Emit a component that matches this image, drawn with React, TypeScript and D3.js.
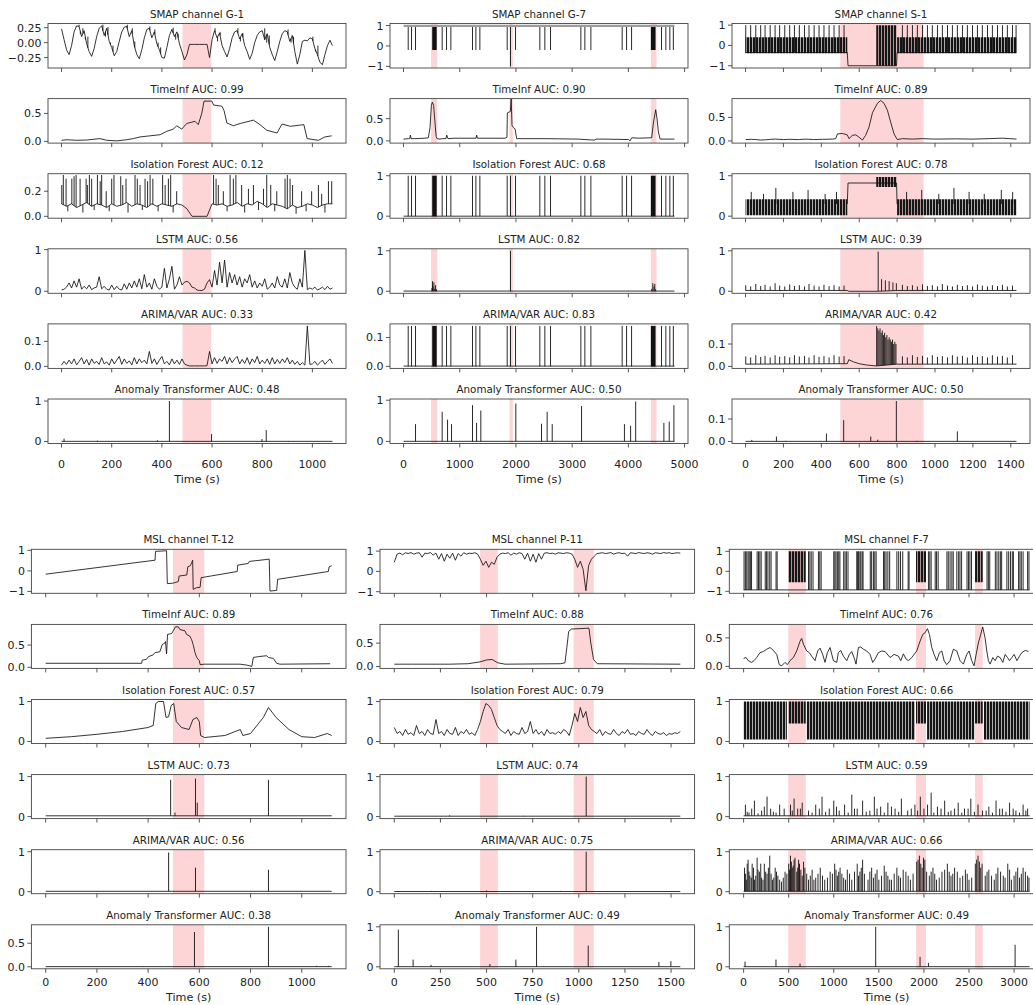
import React from 'react';
import * as d3 from 'd3';

type P = [number, number];
type B = [number, number, number];

// ================= SMAP G-1 =================
const G1_TMAX = 1080;
const G1_PINK: P[] = [[482, 597]];
const G1_SIG = [0.23, 0.05, -0.12, -0.2, -0.05, 0.18, 0.28, 0.27, 0.1, 0.2, -0.02, -0.15, -0.23, -0.1, 0.1, 0.24, 0.28, 0.12, 0.24, 0.02, -0.08, -0.22, -0.15, 0.02, 0.18, 0.26, 0.27, 0.1, 0.2, -0.05, -0.2, -0.27, -0.12, 0.08, 0.22, 0.24, 0.08, 0.18, -0.02, -0.12, -0.25, -0.26, -0.08, 0.12, 0.22, 0.1, 0.18, -0.02, -0.15, -0.29, -0.2, -0.03, -0.03, -0.03, -0.03, -0.03, -0.03, -0.03, -0.03, -0.25, 0.05, 0.2, 0.08, 0.16, -0.05, -0.15, -0.24, -0.1, 0.08, 0.18, 0.2, 0.06, 0.15, -0.05, -0.15, -0.28, -0.18, 0.0, 0.12, 0.18, 0.2, 0.05, 0.15, -0.08, -0.2, -0.3, -0.15, 0.02, 0.15, 0.2, 0.18, 0.02, 0.12, -0.15, -0.36, -0.2, 0.02, 0.04, 0.03, 0.08, 0.06, -0.1, -0.2, -0.33, -0.37, -0.2, -0.05, 0.04, -0.05];
const G1_HATCH: P[] = [[70, 0.3], [75, 0.14], [85, 0.24], [95, 0.05], [105, 0.1], [165, 0.3], [175, 0.1], [185, 0.26], [195, 0.0], [205, -0.05], [262, 0.3], [272, 0.12], [282, 0.24], [292, 0.02], [352, 0.27], [362, 0.1], [372, 0.22], [385, 0.0], [395, -0.08], [445, 0.25], [455, 0.05], [465, 0.15], [475, -0.08], [612, 0.24], [622, 0.02], [632, 0.18], [642, -0.08], [703, 0.24], [713, 0.02], [723, 0.16], [735, -0.1], [810, 0.24], [818, 0.0], [828, 0.12], [903, 0.22], [915, 0.0], [925, 0.1], [1002, 0.1], [1012, -0.15], [1022, -0.05]];
const G1_TIMEINF: P[] = [[0, 0.02], [21, 0.03], [60, 0.02], [100, 0.025], [153, 0.05], [180, 0.02], [220, 0.01], [260, 0.03], [286, 0.05], [313, 0.08], [353, 0.1], [393, 0.12], [419, 0.18], [446, 0.22], [459, 0.28], [479, 0.22], [499, 0.32], [532, 0.36], [545, 0.3], [559, 0.5], [568, 0.72], [599, 0.72], [606, 0.65], [639, 0.63], [648, 0.55], [659, 0.33], [685, 0.28], [712, 0.32], [765, 0.38], [791, 0.3], [818, 0.2], [859, 0.15], [879, 0.31], [912, 0.27], [966, 0.3], [979, 0.05], [1024, 0.02], [1050, 0.08], [1077, 0.1]];
const G1_IF_BASE = [0.1, 0.08, 0.1, 0.07, 0.09, 0.11, 0.08, 0.1, 0.09, 0.07, 0.1, 0.08, 0.09, 0.11, 0.08, 0.1, 0.09, 0.07, 0.1, 0.08, 0.1, 0.09, 0.08, 0.1, 0.09, 0.06, 0.0, 0.0, 0.0, 0.0, 0.1, 0.09, 0.1, 0.08, 0.09, 0.11, 0.08, 0.1, 0.09, 0.12, 0.1, 0.07, 0.1, 0.09, 0.08, 0.06, 0.09, 0.07, 0.08, 0.1, 0.09, 0.07, 0.09, 0.1, 0.1];
const G1_IF_SPK: P[] = [[1, 0.25], [7, 0.33], [18, 0.3], [41, 0.3], [50, 0.32], [58, 0.33], [74, 0.3], [98, 0.3], [103, 0.25], [111, 0.33], [120, 0.3], [143, 0.33], [154, 0.28], [160, 0.33], [178, 0.2], [200, 0.3], [209, 0.33], [236, 0.32], [244, 0.25], [257, 0.3], [293, 0.33], [302, 0.3], [313, 0.25], [333, 0.3], [343, 0.28], [353, 0.33], [364, 0.3], [403, 0.33], [413, 0.25], [426, 0.3], [435, 0.33], [459, 0.2], [606, 0.33], [616, 0.3], [625, 0.25], [645, 0.2], [672, 0.33], [685, 0.3], [695, 0.33], [718, 0.25], [745, 0.22], [765, 0.25], [805, 0.22], [818, 0.33], [834, 0.25], [858, 0.2], [891, 0.3], [900, 0.33], [911, 0.3], [921, 0.25], [957, 0.2], [997, 0.2], [1024, 0.25], [1037, 0.18], [1064, 0.28], [1077, 0.28], [25, 0.04], [85, 0.03], [130, 0.05], [190, 0.04], [265, 0.03], [322, 0.05], [385, 0.04], [445, 0.03], [660, 0.04], [730, 0.03], [785, 0.05], [850, 0.04], [935, 0.02], [975, 0.04], [1050, 0.03]];
const G1_LSTM = [0.03, 0.05, 0.1, 0.2, 0.08, 0.25, 0.1, 0.3, 0.05, 0.12, 0.06, 0.15, 0.04, 0.08, 0.1, 0.35, 0.06, 0.12, 0.05, 0.03, 0.15, 0.04, 0.12, 0.05, 0.03, 0.18, 0.05, 0.2, 0.08, 0.25, 0.1, 0.3, 0.06, 0.4, 0.1, 0.2, 0.05, 0.3, 0.12, 0.05, 0.1, 0.55, 0.08, 0.3, 0.6, 0.05, 0.15, 0.35, 0.15, 0.22, 0.24, 0.2, 0.1, 0.08, 0.03, 0.02, 0.02, 0.05, 0.2, 0.28, 0.1, 0.5, 0.15, 0.7, 0.2, 0.75, 0.1, 0.45, 0.2, 0.4, 0.15, 0.35, 0.1, 0.3, 0.2, 0.4, 0.1, 0.25, 0.08, 0.2, 0.12, 0.3, 0.05, 0.1, 0.2, 0.08, 0.35, 0.15, 0.1, 0.3, 0.08, 0.45, 0.2, 0.1, 0.05, 0.3, 0.1, 0.98, 0.04, 0.08, 0.05, 0.1, 0.03, 0.06, 0.1, 0.04, 0.12, 0.05, 0.08];
const G1_ARIMA = [0.005, 0.02, 0.008, 0.025, 0.01, 0.03, 0.006, 0.02, 0.035, 0.01, 0.028, 0.005, 0.03, 0.012, 0.02, 0.008, 0.035, 0.01, 0.018, 0.005, 0.03, 0.01, 0.025, 0.04, 0.008, 0.03, 0.012, 0.022, 0.006, 0.035, 0.01, 0.03, 0.015, 0.025, 0.01, 0.06, 0.012, 0.03, 0.008, 0.025, 0.04, 0.01, 0.02, 0.006, 0.03, 0.01, 0.025, 0.008, 0.03, 0.01, 0.005, 0.002, 0.002, 0.002, 0.002, 0.002, 0.002, 0.002, 0.003, 0.06, 0.01, 0.035, 0.012, 0.03, 0.02, 0.04, 0.01, 0.035, 0.015, 0.03, 0.04, 0.01, 0.028, 0.012, 0.035, 0.008, 0.03, 0.015, 0.04, 0.01, 0.025, 0.012, 0.03, 0.008, 0.035, 0.01, 0.028, 0.012, 0.03, 0.015, 0.035, 0.01, 0.025, 0.008, 0.02, 0.005, 0.015, 0.005, 0.162, 0.008, 0.01, 0.02, 0.005, 0.015, 0.025, 0.008, 0.02, 0.03, 0.012];
const G1_AT: P[] = [[10, 0.07], [143, 0.02], [382, 0.03], [430, 1.0], [598, 0.18], [799, 0.06], [816, 0.28], [905, 0.01]];

// ================= SMAP G-7 =================
const G7_TMAX = 4820;
const G7_PINK: P[] = [[490, 600], [1885, 1945], [4400, 4500]];
const G7_SPK_T = [83, 142, 213, 687, 765, 842, 1227, 1287, 1358, 1844, 1993, 2425, 2514, 2615, 3155, 3226, 3333, 3890, 3968, 4057, 4590, 4667, 4738, 4800];
const G7_NEG_T = [1903];
const G7_BLOCKS: P[] = [[510, 590], [4400, 4484]];
const G7_TIMEINF: P[] = [[0, 0.04], [86, 0.05], [110, 0.05], [122, 0.13], [135, 0.05], [200, 0.05], [382, 0.06], [441, 0.07], [471, 0.3], [495, 0.8], [512, 0.87], [535, 0.8], [560, 0.4], [580, 0.1], [595, 0.05], [649, 0.04], [700, 0.05], [755, 0.05], [768, 0.13], [790, 0.05], [916, 0.06], [1290, 0.06], [1301, 0.13], [1315, 0.06], [1806, 0.06], [1840, 0.08], [1847, 0.63], [1900, 0.66], [1915, 0.95], [1930, 0.35], [1954, 0.3], [1984, 0.27], [2013, 0.05], [2517, 0.05], [3110, 0.04], [3348, 0.02], [3407, 0.02], [3420, 0.04], [3585, 0.04], [4000, 0.03], [4030, 0.0], [4060, 0.07], [4178, 0.06], [4415, 0.07], [4445, 0.4], [4486, 0.7], [4510, 0.5], [4534, 0.2], [4564, 0.04], [4820, 0.04]];
const G7_LSTM_SPK: P[] = [[505, 0.08], [515, 0.25], [525, 0.12], [540, 0.22], [555, 0.06], [570, 0.15], [585, 0.05], [1903, 1.0], [4415, 0.06], [4435, 0.2], [4455, 0.12], [4470, 0.18], [4485, 0.05]];
const G7_AT: P[] = [[213, 0.42], [687, 0.72], [783, 0.53], [854, 0.42], [1227, 0.88], [1299, 0.45], [1375, 0.75], [1998, 0.92], [2455, 0.43], [2555, 0.72], [2645, 0.42], [3167, 0.86], [3930, 0.42], [4040, 0.38], [4130, 0.97], [4632, 0.45], [4727, 0.48], [4810, 0.88]];

// ================= SMAP S-1 =================
const S1_TMAX = 1430;
const S1_PINK: P[] = [[500, 940]];
const S1_SPK_T = [1, 27, 54, 80, 103, 130, 156, 180, 207, 233, 258, 284, 311, 335, 362, 388, 414, 441, 467, 494, 520, 828, 854, 881, 907, 934, 960, 986, 1013, 1039, 1066, 1092, 1118, 1145, 1171, 1198, 1224, 1250, 1277, 1303, 1330, 1356, 1382, 1409, 1428];
const S1_SIG_LINE: P[] = [[0, -0.35], [537, -0.35], [541, -1], [797, -1], [800, -0.35], [1430, -0.35]];
const S1_SIG_BAND: B[][] = [[[0, -0.38, 0.4], [537, -0.38, 0.4]], [[800, -0.38, 0.4], [1430, -0.38, 0.4]], [[690, -1, 1], [797, -1, 1]]];
const S1_TIMEINF: P[] = [[1, 0.03], [30, 0.035], [54, 0.03], [80, 0.02], [107, 0.025], [130, 0.035], [159, 0.04], [200, 0.03], [230, 0.035], [280, 0.03], [318, 0.04], [360, 0.03], [406, 0.035], [459, 0.04], [476, 0.05], [485, 0.15], [511, 0.16], [537, 0.13], [546, 0.05], [564, 0.12], [582, 0.13], [599, 0.08], [617, 0.02], [634, 0.12], [652, 0.3], [670, 0.6], [696, 0.8], [714, 0.86], [731, 0.8], [749, 0.65], [766, 0.4], [784, 0.15], [801, 0.03], [828, 0.05], [880, 0.04], [934, 0.05], [1000, 0.04], [1110, 0.045], [1200, 0.04], [1286, 0.05], [1356, 0.06], [1391, 0.05], [1430, 0.04]];
const S1_IF_BAND: B[][] = [[[0, 0.02, 0.42], [537, 0.02, 0.42]], [[800, 0.02, 0.42], [1430, 0.02, 0.42]], [[690, 0.72, 0.97], [797, 0.72, 0.97]]];
const S1_IF_LINE: P[] = [[537, 0.3], [541, 0.82], [797, 0.82], [800, 0.3]];
const S1_IF_SPK: P[] = [[30, 0.6], [95, 0.55], [160, 0.7], [250, 0.6], [330, 0.65], [420, 0.55], [480, 0.6], [850, 0.6], [930, 0.65], [1020, 0.55], [1100, 0.7], [1180, 0.6], [1260, 0.55], [1350, 0.65], [1410, 0.6]];
const S1_LSTM_LINE: P[] = [[0, 0.02], [537, 0.02], [545, 0.0], [695, 0.0], [800, 0.02], [1430, 0.02]];
const S1_LSTM_SPK: P[] = [[1, 0.15], [27, 0.12], [54, 0.18], [80, 0.13], [103, 0.16], [130, 0.12], [156, 0.2], [180, 0.14], [207, 0.12], [233, 0.17], [258, 0.13], [284, 0.15], [311, 0.12], [335, 0.18], [362, 0.14], [388, 0.12], [414, 0.16], [441, 0.13], [467, 0.15], [494, 0.12], [520, 0.14], [700, 0.98], [718, 0.3], [738, 0.27], [758, 0.25], [778, 0.22], [796, 0.2], [828, 0.16], [854, 0.13], [881, 0.15], [907, 0.12], [934, 0.17], [960, 0.13], [986, 0.15], [1013, 0.12], [1039, 0.18], [1066, 0.14], [1092, 0.12], [1118, 0.16], [1145, 0.13], [1171, 0.15], [1198, 0.12], [1224, 0.17], [1250, 0.14], [1277, 0.12], [1303, 0.15], [1330, 0.13], [1356, 0.16], [1382, 0.12], [1409, 0.14]];
const S1_ARIMA_LINE: P[] = [[0, 0.01], [537, 0.012], [545, 0.03], [570, 0.02], [600, 0.012], [640, 0.006], [690, 0.002], [797, 0.01], [1430, 0.01]];
const S1_ARIMA_SPK: P[] = [[1, 0.045], [27, 0.04], [54, 0.05], [80, 0.042], [103, 0.047], [130, 0.04], [156, 0.05], [180, 0.043], [207, 0.046], [233, 0.04], [258, 0.05], [284, 0.044], [311, 0.047], [335, 0.04], [362, 0.05], [388, 0.043], [414, 0.046], [441, 0.04], [467, 0.05], [494, 0.044], [520, 0.046], [692, 0.18], [698, 0.17], [704, 0.16], [710, 0.17], [716, 0.15], [722, 0.16], [728, 0.14], [734, 0.15], [740, 0.13], [746, 0.14], [752, 0.12], [758, 0.13], [764, 0.12], [770, 0.11], [776, 0.12], [782, 0.1], [788, 0.11], [794, 0.1], [828, 0.045], [854, 0.04], [881, 0.05], [907, 0.042], [934, 0.047], [960, 0.04], [986, 0.05], [1013, 0.043], [1039, 0.046], [1066, 0.04], [1092, 0.05], [1118, 0.044], [1145, 0.047], [1171, 0.04], [1198, 0.05], [1224, 0.043], [1250, 0.046], [1277, 0.04], [1303, 0.05], [1330, 0.044], [1356, 0.047], [1382, 0.04], [1409, 0.05]];
const S1_AT: P[] = [[33, 0.007], [163, 0.022], [212, 0.003], [427, 0.035], [518, 0.095], [661, 0.022], [698, 0.008], [796, 0.18], [904, 0.003], [1118, 0.045]];

// ================= MSL T-12 =================
const T12_TMAX = 1117;
const T12_PINK: P[] = [[497, 619]];
const T12_SIG: P[] = [[0, -0.16], [427, 0.52], [429, 0.95], [472, 0.98], [475, -0.62], [496, -0.6], [518, -0.52], [521, -0.25], [551, -0.2], [555, 0.2], [565, 0.25], [570, 0.4], [574, 0.52], [576, -0.9], [589, -0.82], [603, -0.8], [607, -0.33], [748, -0.03], [750, 0.28], [791, 0.36], [795, 0.46], [873, 0.57], [876, -0.98], [902, -0.95], [906, -0.41], [1104, -0.03], [1107, 0.2], [1117, 0.25]];
const T12_TIMEINF: P[] = [[0, 0.09], [375, 0.09], [377, 0.16], [394, 0.18], [401, 0.24], [420, 0.28], [427, 0.33], [446, 0.35], [455, 0.51], [466, 0.55], [468, 0.58], [472, 0.3], [476, 0.74], [492, 0.76], [496, 0.8], [507, 0.91], [518, 0.91], [524, 0.85], [544, 0.82], [550, 0.74], [563, 0.7], [570, 0.62], [576, 0.51], [583, 0.33], [590, 0.22], [600, 0.15], [603, 0.06], [620, 0.07], [759, 0.07], [785, 0.05], [805, 0.02], [811, 0.22], [831, 0.24], [863, 0.26], [870, 0.22], [889, 0.2], [902, 0.09], [915, 0.07], [1111, 0.08]];
const T12_IF: P[] = [[0, 0.08], [100, 0.12], [200, 0.18], [300, 0.25], [400, 0.35], [420, 0.4], [430, 0.95], [440, 1.0], [460, 1.0], [470, 0.6], [480, 0.62], [490, 0.9], [500, 0.95], [510, 0.5], [530, 0.35], [560, 0.3], [575, 0.55], [590, 0.6], [600, 0.5], [605, 0.15], [620, 0.1], [700, 0.15], [760, 0.3], [770, 0.15], [800, 0.2], [850, 0.6], [870, 0.85], [900, 0.6], [950, 0.3], [1000, 0.12], [1050, 0.1], [1100, 0.2], [1117, 0.15]];
const T12_LSTM: P[] = [[488, 0.92], [505, 0.1], [585, 0.95], [592, 0.35], [870, 0.92]];
const T12_ARIMA: P[] = [[480, 0.98], [585, 0.6], [870, 0.55]];
const T12_AT: P[] = [[381, 0.01], [581, 0.74], [870, 0.85], [1058, 0.02], [1104, 0.02]];

// ================= MSL P-11 =================
const P11_TMAX = 1550;
const P11_PINK: P[] = [[465, 561], [972, 1081]];
const P11_SIG = [0.45, 0.85, 0.9, 0.82, 0.92, 0.88, 0.93, 0.85, 0.9, 0.92, 0.7, 0.9, 0.88, 0.93, 0.8, 0.9, 0.6, 0.88, 0.5, 0.85, 0.65, 0.9, 0.55, 0.88, 0.75, 0.92, 0.85, 0.9, 0.88, 0.92, 0.85, 0.6, 0.3, 0.5, 0.2, 0.45, 0.35, 0.7, 0.85, 0.9, 0.88, 0.92, 0.8, 0.9, 0.85, 0.92, 0.88, 0.6, 0.9, 0.5, 0.85, 0.45, 0.88, 0.6, 0.9, 0.92, 0.88, 0.9, 0.85, 0.92, 0.9, 0.88, 0.92, 0.9, 0.85, 0.6, 0.2, 0.5, 0.1, -0.95, 0.3, 0.6, 0.75, 0.88, 0.9, 0.92, 0.88, 0.9, 0.93, 0.85, 0.9, 0.92, 0.88, 0.9, 0.75, 0.92, 0.9, 0.88, 0.93, 0.9, 0.88, 0.92, 0.9, 0.85, 0.92, 0.9, 0.88, 0.93, 0.9, 0.92, 0.88, 0.9, 0.92, 0.9];
const P11_TIMEINF: P[] = [[0, 0.05], [100, 0.05], [300, 0.05], [400, 0.06], [465, 0.1], [500, 0.14], [530, 0.15], [561, 0.08], [600, 0.05], [900, 0.06], [925, 0.08], [935, 0.4], [945, 0.75], [960, 0.8], [1055, 0.82], [1065, 0.5], [1080, 0.15], [1100, 0.06], [1550, 0.05]];
const P11_IF = [0.35, 0.2, 0.25, 0.15, 0.3, 0.18, 0.22, 0.15, 0.4, 0.2, 0.25, 0.15, 0.3, 0.2, 0.18, 0.55, 0.2, 0.25, 0.15, 0.3, 0.2, 0.18, 0.35, 0.15, 0.25, 0.2, 0.3, 0.18, 0.22, 0.15, 0.3, 0.5, 0.75, 0.95, 0.9, 0.8, 0.6, 0.4, 0.3, 0.25, 0.2, 0.3, 0.15, 0.25, 0.2, 0.18, 0.35, 0.2, 0.25, 0.5, 0.2, 0.3, 0.18, 0.25, 0.15, 0.3, 0.2, 0.22, 0.18, 0.25, 0.2, 0.3, 0.25, 0.15, 0.4, 0.7, 0.5, 0.85, 0.6, 0.75, 0.4, 0.3, 0.25, 0.2, 0.3, 0.15, 0.25, 0.2, 0.18, 0.3, 0.2, 0.15, 0.25, 0.2, 0.3, 0.18, 0.2, 0.15, 0.25, 0.2, 0.18, 0.3, 0.2, 0.15, 0.25, 0.2, 0.18, 0.22, 0.15, 0.2, 0.18, 0.22, 0.2, 0.25];
const P11_LSTM: P[] = [[300, 0.03], [700, 0.02], [1040, 1.0]];
const P11_ARIMA: P[] = [[200, 0.02], [500, 0.03], [900, 0.02], [1040, 1.0]];
const P11_AT: P[] = [[22, 0.93], [102, 0.18], [199, 0.05], [518, 0.07], [659, 0.18], [771, 1.0], [1051, 0.53], [1434, 0.12], [1499, 0.14]];

// ================= MSL F-7 =================
const F7_TMAX = 3172;
const F7_PINK: P[] = [[495, 690], [1912, 2023], [2567, 2652]];
const F7_SIG_T = [5, 20, 35, 50, 62, 75, 88, 150, 165, 180, 195, 240, 255, 270, 290, 305, 360, 372, 720, 735, 750, 770, 830, 845, 860, 1000, 1012, 1025, 1040, 1055, 1068, 1110, 1125, 1140, 1158, 1255, 1265, 1275, 1290, 1300, 1315, 1325, 1405, 1420, 1440, 1455, 1470, 1552, 1565, 1580, 1600, 1620, 1700, 1720, 1740, 1765, 1825, 1835, 2050, 2065, 2080, 2125, 2140, 2158, 2255, 2270, 2290, 2310, 2325, 2365, 2385, 2400, 2418, 2478, 2495, 2510, 2528, 2700, 2715, 2730, 2792, 2810, 2830, 2848, 2862, 2920, 2940, 2960, 2980, 2992, 3050, 3065, 3080, 3100, 3150, 3165];
const F7_SIG_BLOCKS: number[][] = [[496, 689, -0.55, 1], [1912, 2023, -0.55, 1], [2567, 2652, -0.55, 1]];
const F7_TIMEINF: P[] = [[0, 0.14], [27, 0.155], [52, 0.1], [89, 0.07], [115, 0.1], [145, 0.155], [182, 0.24], [219, 0.26], [256, 0.3], [293, 0.33], [330, 0.28], [367, 0.21], [396, 0.03], [422, 0.01], [459, 0.07], [485, 0.03], [515, 0.1], [552, 0.155], [589, 0.27], [626, 0.44], [644, 0.49], [663, 0.39], [700, 0.27], [729, 0.24], [755, 0.18], [792, 0.1], [822, 0.27], [848, 0.32], [877, 0.21], [903, 0.07], [929, 0.24], [959, 0.33], [996, 0.1], [1033, 0.07], [1051, 0.24], [1077, 0.28], [1107, 0.18], [1144, 0.1], [1173, 0.21], [1199, 0.26], [1225, 0.155], [1247, 0.04], [1273, 0.33], [1299, 0.34], [1329, 0.3], [1366, 0.27], [1402, 0.21], [1432, 0.07], [1458, 0.13], [1495, 0.24], [1532, 0.27], [1569, 0.26], [1624, 0.155], [1669, 0.21], [1717, 0.18], [1743, 0.1], [1772, 0.22], [1802, 0.13], [1828, 0.1], [1865, 0.155], [1891, 0.21], [1920, 0.27], [1957, 0.44], [1987, 0.56], [2013, 0.59], [2039, 0.66], [2061, 0.56], [2087, 0.33], [2113, 0.21], [2142, 0.1], [2172, 0.24], [2198, 0.27], [2224, 0.1], [2253, 0.03], [2290, 0.1], [2309, 0.21], [2327, 0.3], [2364, 0.27], [2401, 0.1], [2438, 0.04], [2457, 0.13], [2475, 0.21], [2501, 0.27], [2530, 0.1], [2556, 0.01], [2579, 0.21], [2604, 0.41], [2630, 0.56], [2652, 0.69], [2678, 0.5], [2697, 0.27], [2715, 0.1], [2734, 0.04], [2764, 0.155], [2790, 0.1], [2816, 0.18], [2845, 0.155], [2875, 0.07], [2901, 0.21], [2927, 0.155], [2949, 0.1], [2975, 0.155], [3001, 0.21], [3031, 0.1], [3060, 0.18], [3086, 0.24], [3123, 0.28], [3160, 0.26]];
const F7_IF_BLOCKS: number[][] = [[0, 480, 0.05, 1], [496, 689, 0.45, 1], [700, 1900, 0.05, 1], [1912, 2023, 0.45, 1], [2035, 2560, 0.05, 1], [2567, 2652, 0.45, 1], [2665, 3172, 0.05, 1]];
const F7_LSTM: P[] = [[20, 0.3], [60, 0.1], [120, 0.4], [200, 0.15], [260, 0.5], [300, 0.2], [360, 0.1], [450, 0.2], [520, 0.3], [560, 0.45], [600, 0.2], [650, 0.35], [720, 0.15], [800, 0.3], [870, 0.5], [950, 0.2], [1000, 0.4], [1060, 0.15], [1120, 0.3], [1200, 0.55], [1260, 0.2], [1320, 0.4], [1400, 0.15], [1450, 0.5], [1520, 0.25], [1600, 0.35], [1680, 0.2], [1750, 0.45], [1820, 0.15], [1900, 0.3], [1960, 0.5], [2000, 0.2], [2080, 0.6], [2150, 0.25], [2230, 0.4], [2300, 0.15], [2380, 0.35], [2450, 0.2], [2520, 0.45], [2600, 0.3], [2650, 0.15], [2720, 0.25], [2800, 0.4], [2870, 0.2], [2950, 0.35], [3020, 0.15], [3100, 0.3], [3150, 0.2], [40, 0.12], [90, 0.2], [160, 0.08], [230, 0.25], [330, 0.12], [400, 0.3], [540, 0.15], [630, 0.2], [760, 0.1], [840, 0.2], [910, 0.12], [1030, 0.25], [1160, 0.1], [1230, 0.2], [1360, 0.12], [1480, 0.2], [1560, 0.1], [1640, 0.25], [1720, 0.12], [1860, 0.2], [1930, 0.15], [2040, 0.3], [2110, 0.1], [2190, 0.2], [2270, 0.12], [2340, 0.2], [2420, 0.1], [2490, 0.2], [2560, 0.12], [2690, 0.15], [2760, 0.1], [2840, 0.2], [2910, 0.12], [2990, 0.2], [3060, 0.1], [3130, 0.15]];
const F7_ARIMA: P[] = [[10, 0.6], [30, 0.3], [50, 0.8], [70, 0.4], [95, 0.7], [120, 0.3], [150, 0.85], [175, 0.5], [200, 0.35], [230, 0.7], [260, 0.45], [290, 0.9], [320, 0.3], [350, 0.6], [380, 0.4], [420, 0.25], [460, 0.5], [500, 0.7], [520, 0.9], [540, 0.6], [560, 0.8], [590, 0.5], [620, 0.7], [650, 0.4], [680, 0.6], [720, 0.3], [760, 0.55], [800, 0.35], [850, 0.6], [900, 0.3], [960, 0.5], [1010, 0.7], [1040, 0.4], [1070, 0.6], [1110, 0.35], [1150, 0.55], [1200, 0.3], [1260, 0.7], [1290, 0.5], [1320, 0.8], [1380, 0.3], [1420, 0.6], [1460, 0.45], [1500, 0.3], [1560, 0.65], [1600, 0.4], [1640, 0.3], [1700, 0.6], [1740, 0.35], [1800, 0.5], [1850, 0.3], [1920, 0.75], [1950, 0.9], [1980, 0.6], [2010, 0.8], [2060, 0.4], [2100, 0.6], [2140, 0.3], [2200, 0.5], [2260, 0.7], [2300, 0.4], [2340, 0.6], [2400, 0.35], [2460, 0.55], [2500, 0.3], [2570, 0.7], [2600, 0.9], [2630, 0.6], [2680, 0.4], [2720, 0.55], [2780, 0.3], [2820, 0.6], [2880, 0.4], [2930, 0.7], [2970, 0.3], [3020, 0.5], [3060, 0.35], [3100, 0.6], [3150, 0.4], [20, 0.45], [40, 0.7], [60, 0.5], [85, 0.35], [110, 0.6], [135, 0.4], [160, 0.55], [190, 0.7], [215, 0.3], [245, 0.5], [275, 0.6], [305, 0.45], [335, 0.35], [365, 0.5], [400, 0.3], [440, 0.35], [480, 0.45], [510, 0.55], [530, 0.75], [550, 0.65], [570, 0.85], [600, 0.6], [610, 0.8], [635, 0.55], [665, 0.75], [700, 0.45], [740, 0.4], [780, 0.3], [825, 0.45], [875, 0.4], [930, 0.35], [985, 0.45], [1025, 0.55], [1055, 0.5], [1090, 0.45], [1130, 0.3], [1175, 0.45], [1230, 0.5], [1275, 0.4], [1305, 0.6], [1340, 0.45], [1400, 0.5], [1440, 0.35], [1480, 0.55], [1530, 0.4], [1580, 0.5], [1620, 0.3], [1670, 0.45], [1720, 0.4], [1770, 0.55], [1825, 0.4], [1880, 0.45], [1935, 0.8], [1965, 0.7], [1995, 0.85], [2030, 0.5], [2080, 0.5], [2120, 0.45], [2170, 0.35], [2230, 0.55], [2280, 0.5], [2320, 0.45], [2370, 0.5], [2430, 0.4], [2480, 0.45], [2530, 0.35], [2585, 0.8], [2615, 0.75], [2645, 0.7], [2700, 0.5], [2750, 0.4], [2800, 0.45], [2850, 0.5], [2900, 0.35], [2950, 0.55], [3000, 0.4], [3040, 0.6], [3080, 0.45], [3125, 0.5], [3165, 0.35]];
const F7_AT: P[] = [[16, 0.13], [359, 0.18], [626, 0.08], [1465, 1.0], [1957, 0.25], [2050, 0.1], [3011, 0.55]];

// ================= titles & ticks =================
const TITLES_G1 = ['SMAP channel G-1', 'TimeInf AUC: 0.99', 'Isolation Forest AUC: 0.12', 'LSTM AUC: 0.56', 'ARIMA/VAR AUC: 0.33', 'Anomaly Transformer AUC: 0.48'];
const TITLES_G7 = ['SMAP channel G-7', 'TimeInf AUC: 0.90', 'Isolation Forest AUC: 0.68', 'LSTM AUC: 0.82', 'ARIMA/VAR AUC: 0.83', 'Anomaly Transformer AUC: 0.50'];
const TITLES_S1 = ['SMAP channel S-1', 'TimeInf AUC: 0.89', 'Isolation Forest AUC: 0.78', 'LSTM AUC: 0.39', 'ARIMA/VAR AUC: 0.42', 'Anomaly Transformer AUC: 0.50'];
const TITLES_T12 = ['MSL channel T-12', 'TimeInf AUC: 0.89', 'Isolation Forest AUC: 0.57', 'LSTM AUC: 0.73', 'ARIMA/VAR AUC: 0.56', 'Anomaly Transformer AUC: 0.38'];
const TITLES_P11 = ['MSL channel P-11', 'TimeInf AUC: 0.88', 'Isolation Forest AUC: 0.79', 'LSTM AUC: 0.74', 'ARIMA/VAR AUC: 0.75', 'Anomaly Transformer AUC: 0.49'];
const TITLES_F7 = ['MSL channel F-7', 'TimeInf AUC: 0.76', 'Isolation Forest AUC: 0.66', 'LSTM AUC: 0.59', 'ARIMA/VAR AUC: 0.66', 'Anomaly Transformer AUC: 0.49'];

const XT_G1 = [0, 200, 400, 600, 800, 1000];
const XT_G7 = [0, 1000, 2000, 3000, 4000, 5000];
const XT_S1 = [0, 200, 400, 600, 800, 1000, 1200, 1400];
const XT_T12 = [0, 200, 400, 600, 800, 1000];
const XT_P11 = [0, 250, 500, 750, 1000, 1250, 1500];
const XT_F7 = [0, 500, 1000, 1500, 2000, 2500, 3000];

// ================= rendering helpers =================
interface Layer { kind: 'line' | 'spikes' | 'area'; pts?: P[]; spk?: P[]; base?: number | P[]; band?: B[]; fill?: string; stroke?: string; sw?: number; }
interface PanelSpec { title: string; y: [number, number]; ticks: number[]; labels: string[]; layers: Layer[]; }

const even = (vals: number[], tMax: number): P[] => vals.map((v, i) => [(i * tMax) / (vals.length - 1), v] as P);
const L = (pts: P[], stroke = '#111', sw = 0.85): Layer => ({ kind: 'line', pts, stroke, sw });
const S = (spk: P[], base: number | P[]): Layer => ({ kind: 'spikes', spk, base });
const A = (band: B[], fill = 'url(#dense)'): Layer => ({ kind: 'area', band, fill });
const blk = (b: number[]): B[] => [[b[0], b[2], b[3]], [b[1], b[2], b[3]]];
const at = (ts: number[], h: number): P[] => ts.map((t) => [t, h] as P);

function interp(pts: P[], t: number): number {
  const i = d3.bisector((d: P) => d[0]).left(pts, t);
  if (i <= 0) return pts[0][1];
  if (i >= pts.length) return pts[pts.length - 1][1];
  const [t0, v0] = pts[i - 1];
  const [t1, v1] = pts[i];
  return t1 === t0 ? v1 : v0 + ((v1 - v0) * (t - t0)) / (t1 - t0);
}

const M = '\u2212';
const Y01 = { ticks: [0, 1], labels: ['0', '1'] };
const Y005 = { ticks: [0, 0.5], labels: ['0.0', '0.5'] };
const Y001 = { ticks: [0, 0.1], labels: ['0.0', '0.1'] };
const Y101 = { ticks: [-1, 0, 1], labels: [M + '1', '0', '1'] };

const FLAT = (tMax: number, v: number): P[] => [[0, v], [tMax, v]];
const G1_SIG_PTS = even(G1_SIG, G1_TMAX);

// ---- panel specs ----
const G1_PANELS: PanelSpec[] = [
  { title: TITLES_G1[0], y: [-0.425, 0.32], ticks: [-0.25, 0, 0.25], labels: [M + '0.25', '0.00', '0.25'], layers: [L(G1_SIG_PTS), S(G1_HATCH, G1_SIG_PTS)] },
  { title: TITLES_G1[1], y: [-0.03, 0.765], ...Y005, layers: [L(G1_TIMEINF)] },
  { title: TITLES_G1[2], y: [-0.015, 0.34], ticks: [0, 0.2], labels: ['0.0', '0.2'], layers: [L(even(G1_IF_BASE, G1_TMAX)), S(G1_IF_SPK, even(G1_IF_BASE, G1_TMAX))] },
  { title: TITLES_G1[3], y: [-0.048, 1.02], ...Y01, layers: [L(even(G1_LSTM, G1_TMAX))] },
  { title: TITLES_G1[4], y: [-0.008, 0.17], ...Y001, layers: [L(even(G1_ARIMA, G1_TMAX))] },
  { title: TITLES_G1[5], y: [-0.05, 1.05], ...Y01, layers: [L(FLAT(G1_TMAX, 0.003)), S(G1_AT, 0)] },
];

const G7_PANELS: PanelSpec[] = [
  { title: TITLES_G7[0], y: [-1.08, 1.1], ...Y101, layers: [...G7_BLOCKS.map((b) => A(blk([b[0], b[1], -0.2, 1]), '#111')), S(at(G7_SPK_T, -0.2), 1), S(at(G7_NEG_T, -1), 1), L(FLAT(G7_TMAX, 0.985), '#9c9c9c', 2.2)] },
  { title: TITLES_G7[1], y: [-0.05, 0.95], ...Y005, layers: [L(G7_TIMEINF)] },
  { title: TITLES_G7[2], y: [-0.05, 1.05], ...Y01, layers: [...G7_BLOCKS.map((b) => A(blk([b[0], b[1], 0, 1]), '#111')), L(FLAT(G7_TMAX, 0)), S(at(G7_SPK_T, 1), 0), S(at(G7_NEG_T, 1), 0)] },
  { title: TITLES_G7[3], y: [-0.05, 1.05], ...Y01, layers: [L(FLAT(G7_TMAX, 0.005)), S(G7_LSTM_SPK, 0.005)] },
  { title: TITLES_G7[4], y: [-0.007, 0.147], ...Y001, layers: [...G7_BLOCKS.map((b) => A(blk([b[0], b[1], 0, 0.14]), '#111')), L(FLAT(G7_TMAX, 0.001)), S(at(G7_SPK_T, 0.14), 0), S(at(G7_NEG_T, 0.14), 0)] },
  { title: TITLES_G7[5], y: [-0.05, 1.03], ...Y01, layers: [L(FLAT(G7_TMAX, 0.003)), S(G7_AT, 0)] },
];

const S1_PANELS: PanelSpec[] = [
  { title: TITLES_S1[0], y: [-1.11, 1.08], ...Y101, layers: [...S1_SIG_BAND.map((b) => A(b)), L(S1_SIG_LINE), S(at(S1_SPK_T, 1), -0.35)] },
  { title: TITLES_S1[1], y: [-0.045, 0.9], ...Y005, layers: [L(S1_TIMEINF)] },
  { title: TITLES_S1[2], y: [-0.05, 1.05], ...Y01, layers: [...S1_IF_BAND.map((b) => A(b)), L(S1_IF_LINE), S(S1_IF_SPK, 0.3)] },
  { title: TITLES_S1[3], y: [-0.05, 1.05], ...Y01, layers: [L(S1_LSTM_LINE), S(S1_LSTM_SPK, S1_LSTM_LINE)] },
  { title: TITLES_S1[4], y: [-0.009, 0.19], ...Y001, layers: [L(S1_ARIMA_LINE), S(S1_ARIMA_SPK, S1_ARIMA_LINE)] },
  { title: TITLES_S1[5], y: [-0.009, 0.189], ...Y001, layers: [L(FLAT(S1_TMAX, 0.0005)), S(S1_AT, 0)] },
];

const T12_PANELS: PanelSpec[] = [
  { title: TITLES_T12[0], y: [-1.09, 1.05], ...Y101, layers: [L(T12_SIG)] },
  { title: TITLES_T12[1], y: [-0.025, 0.965], ...Y005, layers: [L(T12_TIMEINF)] },
  { title: TITLES_T12[2], y: [-0.05, 1.05], ...Y01, layers: [L(T12_IF)] },
  { title: TITLES_T12[3], y: [-0.05, 1.05], ...Y01, layers: [L(FLAT(T12_TMAX, 0.02)), S(T12_LSTM, 0.02)] },
  { title: TITLES_T12[4], y: [-0.05, 1.05], ...Y01, layers: [L(FLAT(T12_TMAX, 0.01)), S(T12_ARIMA, 0.01)] },
  { title: TITLES_T12[5], y: [-0.043, 0.893], ...Y005, layers: [L(FLAT(T12_TMAX, 0.003)), S(T12_AT, 0)] },
];

const P11_PANELS: PanelSpec[] = [
  { title: TITLES_P11[0], y: [-1.08, 1.09], ...Y101, layers: [L(even(P11_SIG, P11_TMAX))] },
  { title: TITLES_P11[1], y: [-0.04, 0.9], ...Y005, layers: [L(P11_TIMEINF)] },
  { title: TITLES_P11[2], y: [-0.05, 1.05], ...Y01, layers: [L(even(P11_IF, P11_TMAX))] },
  { title: TITLES_P11[3], y: [-0.05, 1.05], ...Y01, layers: [L(FLAT(P11_TMAX, 0.01)), S(P11_LSTM, 0.01)] },
  { title: TITLES_P11[4], y: [-0.05, 1.05], ...Y01, layers: [L(FLAT(P11_TMAX, 0.005)), S(P11_ARIMA, 0.005)] },
  { title: TITLES_P11[5], y: [-0.05, 1.05], ...Y01, layers: [L(FLAT(P11_TMAX, 0.003)), S(P11_AT, 0)] },
];

const F7_PANELS: PanelSpec[] = [
  { title: TITLES_F7[0], y: [-1.1, 1.1], ...Y101, layers: [...F7_SIG_BLOCKS.map((b) => A(blk(b))), L(FLAT(F7_TMAX, -0.93)), S(at(F7_SIG_T, 1), -0.93)] },
  { title: TITLES_F7[1], y: [-0.035, 0.735], ...Y005, layers: [L(F7_TIMEINF)] },
  { title: TITLES_F7[2], y: [-0.05, 1.05], ...Y01, layers: [...F7_IF_BLOCKS.map((b) => A(blk(b)))] },
  { title: TITLES_F7[3], y: [-0.05, 1.05], ...Y01, layers: [L(FLAT(F7_TMAX, 0.02)), S(F7_LSTM, 0.02)] },
  { title: TITLES_F7[4], y: [-0.05, 1.05], ...Y01, layers: [L(FLAT(F7_TMAX, 0.01)), S(F7_ARIMA, 0.01)] },
  { title: TITLES_F7[5], y: [-0.05, 1.05], ...Y01, layers: [L(FLAT(F7_TMAX, 0.003)), S(F7_AT, 0)] },
];

interface ColSpec { x0: number; w: number; tMax: number; xt: number[]; pinks: P[]; panels: PanelSpec[]; }
interface GroupSpec { row0: number; step: number; h: number; tickLabelY: number; timeY: number; cols: ColSpec[]; }

const GROUPS: GroupSpec[] = [
  {
    row0: 23.5, step: 75.1, h: 44.5, tickLabelY: 468.3, timeY: 483,
    cols: [
      { x0: 48, w: 298, tMax: G1_TMAX, xt: XT_G1, pinks: G1_PINK, panels: G1_PANELS },
      { x0: 390, w: 298, tMax: G7_TMAX, xt: XT_G7, pinks: G7_PINK, panels: G7_PANELS },
      { x0: 732, w: 298, tMax: S1_TMAX, xt: XT_S1, pinks: S1_PINK, panels: S1_PANELS },
    ],
  },
  {
    row0: 549.3, step: 75.1, h: 44, tickLabelY: 985.7, timeY: 1000.7,
    cols: [
      { x0: 31.4, w: 314.6, tMax: T12_TMAX, xt: XT_T12, pinks: T12_PINK, panels: T12_PANELS },
      { x0: 380, w: 314.6, tMax: P11_TMAX, xt: XT_P11, pinks: P11_PINK, panels: P11_PANELS },
      { x0: 729.3, w: 314.6, tMax: F7_TMAX, xt: XT_F7, pinks: F7_PINK, panels: F7_PANELS },
    ],
  },
];

const FONT = "'DejaVu Sans', sans-serif";
const TXT = '#222';
const AXC = '#444';

function Panel({ id, x0, y0, w, h, col, spec, last, group }: { id: string; x0: number; y0: number; w: number; h: number; col: ColSpec; spec: PanelSpec; last: boolean; group: GroupSpec }) {
  const x = d3.scaleLinear().domain([-0.05 * col.tMax, 1.05 * col.tMax]).range([x0, x0 + w]);
  const y = d3.scaleLinear().domain(spec.y).range([y0 + h, y0]);
  const line = d3.line<P>().x((d) => x(d[0])).y((d) => y(d[1]));
  const area = d3.area<B>().x((d) => x(d[0])).y0((d) => y(d[1])).y1((d) => y(d[2]));
  return (
    <g>
      <defs>
        <clipPath id={id}><rect x={x0} y={y0} width={w} height={h} /></clipPath>
      </defs>
      <g clipPath={`url(#${id})`}>
        {col.pinks.map((p, i) => (
          <rect key={i} x={x(p[0])} y={y0} width={x(p[1]) - x(p[0])} height={h} fill="#fdd5d7" />
        ))}
        {spec.layers.map((ly, i) => {
          if (ly.kind === 'area') return <path key={i} d={area(ly.band!) || ''} fill={ly.fill} stroke="none" />;
          if (ly.kind === 'line') return <path key={i} d={line(ly.pts!) || ''} fill="none" stroke={ly.stroke} strokeWidth={ly.sw} strokeLinejoin="round" />;
          return (
            <g key={i}>
              {ly.spk!.map((s, j) => {
                const b = typeof ly.base === 'number' ? ly.base : interp(ly.base as P[], s[0]);
                return <line key={j} x1={x(s[0])} x2={x(s[0])} y1={y(b)} y2={y(s[1])} stroke="#111" strokeWidth={0.9} />;
              })}
            </g>
          );
        })}
      </g>
      <rect x={x0} y={y0} width={w} height={h} fill="none" stroke={AXC} strokeWidth={0.9} />
      <text x={x0 + w / 2} y={y0 - 6} textAnchor="middle" fontFamily={FONT} fontSize={10.3} fill={TXT}>{spec.title}</text>
      {spec.ticks.map((t, i) => (
        <g key={i}>
          <line x1={x0 - 4} x2={x0} y1={y(t)} y2={y(t)} stroke={AXC} strokeWidth={0.9} />
          <text x={x0 - 6.5} y={y(t)} dy="0.36em" textAnchor="end" fontFamily={FONT} fontSize={11} fill={TXT}>{spec.labels[i]}</text>
        </g>
      ))}
      {col.xt.map((t, i) => (
        <g key={i}>
          <line x1={x(t)} x2={x(t)} y1={y0 + h} y2={y0 + h + 4} stroke={AXC} strokeWidth={0.9} />
          {last && (
            <text x={x(t)} y={group.tickLabelY} textAnchor="middle" fontFamily={FONT} fontSize={11} fill={TXT}>{t}</text>
          )}
        </g>
      ))}
      {last && (
        <text x={x0 + w / 2} y={group.timeY} textAnchor="middle" fontFamily={FONT} fontSize={11.2} fill={TXT}>Time (s)</text>
      )}
    </g>
  );
}

export default function App() {
  return (
    <svg width={1033} height={1005} viewBox="0 0 1033 1005" style={{ position: 'absolute', left: 0, top: 0, background: '#fff' }}>
      <defs>
        <pattern id="dense" width={3} height={4} patternUnits="userSpaceOnUse">
          <rect x={0} y={0} width={2} height={4} fill="#151515" />
          <rect x={2} y={0} width={1} height={4} fill="#151515" fillOpacity={0.35} />
        </pattern>
      </defs>
      <rect x={0} y={0} width={1033} height={1005} fill="#fff" />
      {GROUPS.map((g, gi) =>
        g.cols.map((c, ci) =>
          c.panels.map((p, pi) => (
            <Panel key={`${gi}-${ci}-${pi}`} id={`clip-${gi}-${ci}-${pi}`} x0={c.x0} y0={g.row0 + pi * g.step} w={c.w} h={g.h} col={c} spec={p} last={pi === c.panels.length - 1} group={g} />
          ))
        )
      )}
    </svg>
  );
}
